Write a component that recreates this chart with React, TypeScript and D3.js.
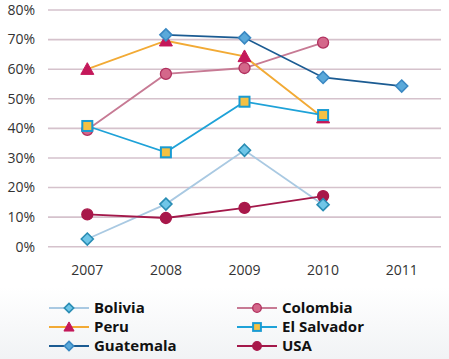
import React from "react";
import * as d3 from "d3";

const years = ["2007", "2008", "2009", "2010", "2011"];
const yTicks = [0, 10, 20, 30, 40, 50, 60, 70, 80];

const bolivia = [2.6, 14.4, 32.6, 14.2, null];
const colombia = [39.5, 58.4, 60.4, 69, null];
const peru = [60, 69.6, 64.3, 43.6, null];
const elSalvador = [40.8, 31.9, 49, 44.5, null];
const guatemala = [null, 71.6, 70.6, 57.2, 54.3];
const usa = [10.9, 9.7, 13.1, 17.1, null];

type Series = { name: string; values: (number | null)[]; line: string; fill: string; stroke: string; marker: string };

const series: Series[] = [
  { name: "Bolivia", values: bolivia, line: "#a9c9e2", fill: "#6fc6e8", stroke: "#2a8db4", marker: "diamond" },
  { name: "Colombia", values: colombia, line: "#c77a94", fill: "#d4678a", stroke: "#b0305e", marker: "circle" },
  { name: "Peru", values: peru, line: "#f2aa35", fill: "#c4185a", stroke: "#c4185a", marker: "triangle" },
  { name: "El Salvador", values: elSalvador, line: "#1ea2d8", fill: "#f6c143", stroke: "#1a9bd2", marker: "square" },
  { name: "Guatemala", values: guatemala, line: "#1b5b92", fill: "#5aa9da", stroke: "#3a88c2", marker: "diamond" },
  { name: "USA", values: usa, line: "#a3184a", fill: "#a8184a", stroke: "#a8184a", marker: "circle" },
];

const markerOrder = ["USA", "Colombia", "Peru", "El Salvador", "Bolivia", "Guatemala"];

function Marker({ type, x, y, fill, stroke, k = 1 }: { type: string; x: number; y: number; fill: string; stroke: string; k?: number }) {
  if (type === "diamond") {
    const r = 6 * k;
    return <path d={`M${x},${y - r}L${x + r},${y}L${x},${y + r}L${x - r},${y}Z`} fill={fill} stroke={stroke} strokeWidth={1.6} />;
  }
  if (type === "circle") {
    return <circle cx={x} cy={y} r={5.5 * k} fill={fill} stroke={stroke} strokeWidth={1.3} />;
  }
  if (type === "triangle") {
    const s = 6.5 * k;
    return <path d={`M${x},${y - s}L${x + s},${y + s * 0.8}L${x - s},${y + s * 0.8}Z`} fill={fill} stroke={stroke} strokeWidth={1} />;
  }
  const h = 5 * k;
  return <rect x={x - h} y={y - h} width={2 * h} height={2 * h} fill={fill} stroke={stroke} strokeWidth={2} />;
}

export default function App() {
  const W = 449, H = 359;
  const x = d3.scalePoint<string>().domain(years).range([48, 441]).padding(0.5);
  const y = d3.scaleLinear().domain([0, 80]).range([246.7, 10]);
  const line = d3.line<[string, number | null]>()
    .defined((d) => d[1] !== null)
    .x((d) => x(d[0]) as number)
    .y((d) => y(d[1] as number));

  const font = "'Open Sans', 'DejaVu Sans', sans-serif";
  const legendLeft = ["Bolivia", "Peru", "Guatemala"];
  const legendRight = ["Colombia", "El Salvador", "USA"];
  const legendY = [308, 327, 346];

  return (
    <svg width={W} height={H} style={{ position: "absolute", left: 0, top: 0 }}>
      <defs>
        <linearGradient id="bg" x1="0" y1="0" x2="0" y2="1">
          <stop offset="0.8" stopColor="#ffffff" />
          <stop offset="1" stopColor="#f1f3f5" />
        </linearGradient>
      </defs>
      <rect width={W} height={H} fill="url(#bg)" />
      {yTicks.map((t) => (
        <g key={t}>
          <line x1={48} x2={441} y1={y(t)} y2={y(t)} stroke="#d5c2cc" strokeWidth={1.6} />
          <text x={35} y={y(t)} dy="0.35em" textAnchor="end" fontFamily={font} fontSize={14} fill="#333">
            {t}%
          </text>
        </g>
      ))}
      {years.map((yr) => (
        <text key={yr} x={x(yr)} y={275} textAnchor="middle" fontFamily={font} fontSize={14} fill="#333">
          {yr}
        </text>
      ))}
      {series.map((s) => (
        <path key={s.name} d={line(years.map((yr, i) => [yr, s.values[i]]) as any) || ""} fill="none" stroke={s.line} strokeWidth={1.8} />
      ))}
      {markerOrder.map((n) => {
        const s = series.find((q) => q.name === n)!;
        return (
          <g key={n}>
            {years.map((yr, i) =>
              s.values[i] === null ? null : (
                <Marker key={yr} type={s.marker} x={x(yr) as number} y={y(s.values[i] as number)} fill={s.fill} stroke={s.stroke} />
              )
            )}
          </g>
        );
      })}
      {[legendLeft, legendRight].map((col, ci) =>
        col.map((n, ri) => {
          const s = series.find((q) => q.name === n)!;
          const x0 = ci === 0 ? 49 : 237;
          const ly = legendY[ri];
          return (
            <g key={n}>
              <line x1={x0} x2={x0 + 40} y1={ly} y2={ly} stroke={s.line} strokeWidth={2} />
              <Marker type={s.marker} x={x0 + 20} y={ly} fill={s.fill} stroke={s.stroke} k={0.78} />
              <text x={x0 + 45} y={ly} dy="0.36em" fontFamily={font} fontWeight={700} fontSize={15} fill="#111">
                {n}
              </text>
            </g>
          );
        })
      )}
    </svg>
  );
}
